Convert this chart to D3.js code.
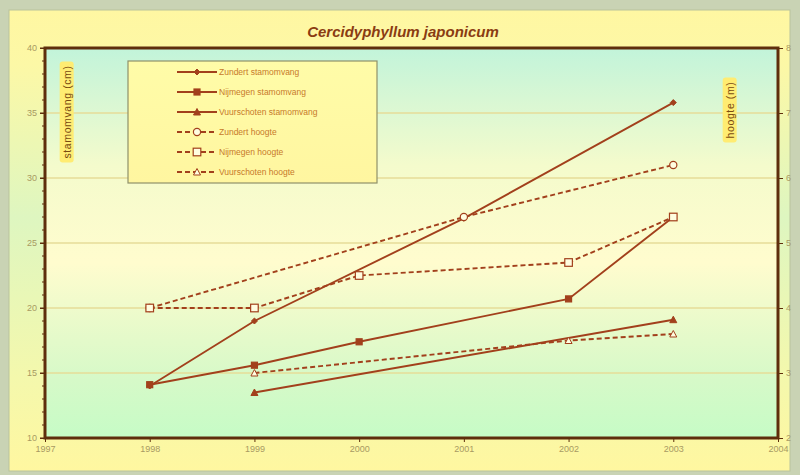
<!DOCTYPE html>
<html>
<head>
<meta charset="utf-8">
<script src="https://cdn.jsdelivr.net/npm/d3@7"></script>
<style>
  body { margin: 0; background: #c9d3b4; }
  svg { display: block; font-family: "Liberation Sans", Arial, sans-serif; }
</style>
</head>
<body>
<svg id="chart" width="800" height="475"></svg>
<script>
// data
var years = [1998, 1999, 2000, 2001, 2002, 2003];
var zundert_stam = [14.0, 19.0, null, 26.9, null, 35.8];
var nijmegen_stam = [14.1, 15.6, 17.4, null, 20.7, 27.0];
var vuurschoten_stam = [null, 13.5, null, null, null, 19.1];
var zundert_hoogte = [4.0, null, null, 5.4, null, 6.2];
var nijmegen_hoogte = [4.0, 4.0, 4.5, null, 4.7, 5.4];
var vuurschoten_hoogte = [null, 3.0, null, null, 3.5, 3.6];

var x_ticks = [1997, 1998, 1999, 2000, 2001, 2002, 2003, 2004];
var left_ticks = [10, 15, 20, 25, 30, 35, 40];
var right_ticks = [2, 3, 4, 5, 6, 7, 8];

var series = [
  {name: "Zundert stamomvang", values: zundert_stam, axis: "left", dash: null, marker: "diamond", filled: true},
  {name: "Nijmegen stamomvang", values: nijmegen_stam, axis: "left", dash: null, marker: "square", filled: true},
  {name: "Vuurschoten stamomvang", values: vuurschoten_stam, axis: "left", dash: null, marker: "triangle", filled: true},
  {name: "Zundert hoogte", values: zundert_hoogte, axis: "right", dash: "5,3", marker: "circle", filled: false},
  {name: "Nijmegen hoogte", values: nijmegen_hoogte, axis: "right", dash: "5,3", marker: "square", filled: false},
  {name: "Vuurschoten hoogte", values: vuurschoten_hoogte, axis: "right", dash: "5,3", marker: "triangle", filled: false}
];

var line_color = "#a2401c";
var frame_color = "#5e2e0c";
var label_color = "#a89a62";

var svg = d3.select("#chart");
var defs = svg.append("defs");

var ca = defs.append("linearGradient").attr("id", "chartbg").attr("x1", 0).attr("y1", 0).attr("x2", 0).attr("y2", 1);
ca.append("stop").attr("offset", "0").attr("stop-color", "#fff7a2");
ca.append("stop").attr("offset", "0.12").attr("stop-color", "#fcf8a6");
ca.append("stop").attr("offset", "0.45").attr("stop-color", "#def6c0");
ca.append("stop").attr("offset", "0.8").attr("stop-color", "#f4f8ac");
ca.append("stop").attr("offset", "1").attr("stop-color", "#fff7a0");

var pa = defs.append("linearGradient").attr("id", "plotbg").attr("x1", 0).attr("y1", 0).attr("x2", 0).attr("y2", 1);
pa.append("stop").attr("offset", "0").attr("stop-color", "#c2f4da");
pa.append("stop").attr("offset", "0.3").attr("stop-color", "#f4fbcc");
pa.append("stop").attr("offset", "0.55").attr("stop-color", "#fffcce");
pa.append("stop").attr("offset", "0.85").attr("stop-color", "#d6f9c8");
pa.append("stop").attr("offset", "1").attr("stop-color", "#c6fcc6");

var lg = defs.append("linearGradient").attr("id", "legbg").attr("x1", 0).attr("y1", 0).attr("x2", 0).attr("y2", 1);
lg.append("stop").attr("offset", "0").attr("stop-color", "#fffca8");
lg.append("stop").attr("offset", "1").attr("stop-color", "#fff6a0");

// chart area
svg.append("rect").attr("x", 9).attr("y", 10).attr("width", 781).attr("height", 461)
  .attr("fill", "url(#chartbg)").attr("stroke", "#b9c39c").attr("stroke-width", 1);

var margin = {left: 45, right: 778, top: 48, bottom: 438};

var x = d3.scaleLinear().domain([1997, 2004]).range([margin.left, margin.right]);
var yl = d3.scaleLinear().domain([10, 40]).range([margin.bottom, margin.top]);
var yr = d3.scaleLinear().domain([2, 8]).range([margin.bottom, margin.top]);

// plot area
svg.append("rect").attr("x", margin.left).attr("y", margin.top)
  .attr("width", margin.right - margin.left).attr("height", margin.bottom - margin.top)
  .attr("fill", "url(#plotbg)");

// gridlines
svg.append("g").selectAll("line").data(left_ticks.slice(1, -1)).enter().append("line")
  .attr("x1", margin.left).attr("x2", margin.right)
  .attr("y1", function(d) {return yl(d);}).attr("y2", function(d) {return yl(d);})
  .attr("stroke", "#e6dc98").attr("stroke-width", 1.5);

// minor ticks on the left axis
svg.append("g").selectAll("line").data(d3.range(10, 41, 1)).enter().append("line")
  .attr("x1", function(d) {return margin.left - (d % 5 === 0 ? 5 : 3);}).attr("x2", margin.left)
  .attr("y1", function(d) {return yl(d);}).attr("y2", function(d) {return yl(d);})
  .attr("stroke", frame_color).attr("stroke-width", 1);

function style_axis(g)
{
  g.select(".domain").remove();
  g.selectAll("line").attr("stroke", frame_color);
  g.selectAll("text").attr("fill", label_color).style("font-size", "9px").style("font-family", "Liberation Sans");
}

var gl = svg.append("g").attr("transform", "translate(" + margin.left + ",0)")
  .call(d3.axisLeft(yl).tickValues(left_ticks).tickSize(5).tickPadding(3).tickFormat(d3.format("d")));
style_axis(gl);

var gr = svg.append("g").attr("transform", "translate(" + margin.right + ",0)")
  .call(d3.axisRight(yr).tickValues(right_ticks).tickSize(5).tickPadding(3).tickFormat(d3.format("d")));
style_axis(gr);

var gb = svg.append("g").attr("transform", "translate(0," + margin.bottom + ")")
  .call(d3.axisBottom(x).tickValues(x_ticks).tickSize(4).tickPadding(4).tickFormat(d3.format("d")));
style_axis(gb);

// plot frame
svg.append("rect").attr("x", margin.left).attr("y", margin.top)
  .attr("width", margin.right - margin.left).attr("height", margin.bottom - margin.top)
  .attr("fill", "none").attr("stroke", frame_color).attr("stroke-width", 3);

// title
svg.append("text").attr("x", 403).attr("y", 37).attr("text-anchor", "middle")
  .style("font-size", "15px").style("font-weight", "bold").style("font-style", "italic")
  .attr("fill", "#8a3c12").text("Cercidyphyllum japonicum");

// axis titles
function axis_title(cx, cy, txt)
{
  let g = svg.append("g").attr("transform", "translate(" + cx + "," + cy + ") rotate(-90)");
  let t = g.append("text").attr("text-anchor", "middle").attr("dy", "0.35em")
    .style("font-size", "10.5px").style("letter-spacing", "0.6px").attr("fill", "#7a4a10").text(txt);
  let bb = t.node().getBBox();
  g.insert("rect", "text").attr("x", bb.x - 4).attr("y", bb.y - 1).attr("width", bb.width + 8).attr("height", bb.height + 2)
    .attr("rx", 3).attr("fill", "#ffec72");
}
axis_title(67, 112, "stamomvang (cm)");
axis_title(730, 110, "hoogte (m)");

// markers
function draw_marker(g, type, filled, cx, cy)
{
  let fill = filled ? line_color : "#fffde0";
  if (type === "diamond")
  {
    g.append("path").attr("d", "M" + cx + "," + (cy - 3) + "L" + (cx + 3) + "," + cy + "L" + cx + "," + (cy + 3) + "L" + (cx - 3) + "," + cy + "Z")
      .attr("fill", fill).attr("stroke", line_color).attr("stroke-width", 1);
  }
  else if (type === "square")
  {
    let s = filled ? 3 : 3.8;
    g.append("rect").attr("x", cx - s).attr("y", cy - s).attr("width", 2 * s).attr("height", 2 * s)
      .attr("fill", fill).attr("stroke", line_color).attr("stroke-width", 1.2);
  }
  else if (type === "triangle")
  {
    g.append("path").attr("d", "M" + cx + "," + (cy - 3.5) + "L" + (cx + 3.5) + "," + (cy + 3) + "L" + (cx - 3.5) + "," + (cy + 3) + "Z")
      .attr("fill", fill).attr("stroke", line_color).attr("stroke-width", 1);
  }
  else
  {
    g.append("circle").attr("cx", cx).attr("cy", cy).attr("r", 3.6)
      .attr("fill", fill).attr("stroke", line_color).attr("stroke-width", 1.2);
  }
}

// lines
var plot = svg.append("g");
series.forEach(function(s)
{
  let yscale = s.axis === "left" ? yl : yr;
  let pts = years.map(function(yr_, i) {return {year: yr_, v: s.values[i]};})
    .filter(function(d) {return d.v !== null;});
  let line = d3.line().x(function(d) {return x(d.year);}).y(function(d) {return yscale(d.v);});
  plot.append("path").datum(pts).attr("d", line).attr("fill", "none")
    .attr("stroke", line_color).attr("stroke-width", 1.9)
    .attr("stroke-dasharray", s.dash);
  s.pts = pts;
  s.yscale = yscale;
});
series.forEach(function(s)
{
  s.pts.forEach(function(d) {draw_marker(plot, s.marker, s.filled, x(d.year), s.yscale(d.v));});
});

// legend
var legend = svg.append("g");
legend.append("rect").attr("x", 128).attr("y", 61).attr("width", 249).attr("height", 122)
  .attr("fill", "url(#legbg)").attr("stroke", "#8f916a").attr("stroke-width", 1.2);
series.forEach(function(s, i)
{
  let ly = 72 + i * 20;
  legend.append("line").attr("x1", 177).attr("x2", 217).attr("y1", ly).attr("y2", ly)
    .attr("stroke", line_color).attr("stroke-width", 2).attr("stroke-dasharray", s.dash);
  draw_marker(legend, s.marker, s.filled, 197, ly);
  legend.append("text").attr("x", 219).attr("y", ly).attr("dy", "0.35em")
    .style("font-size", "8.5px").attr("fill", "#c77a2a").text(s.name);
});
</script>
</body>
</html>
